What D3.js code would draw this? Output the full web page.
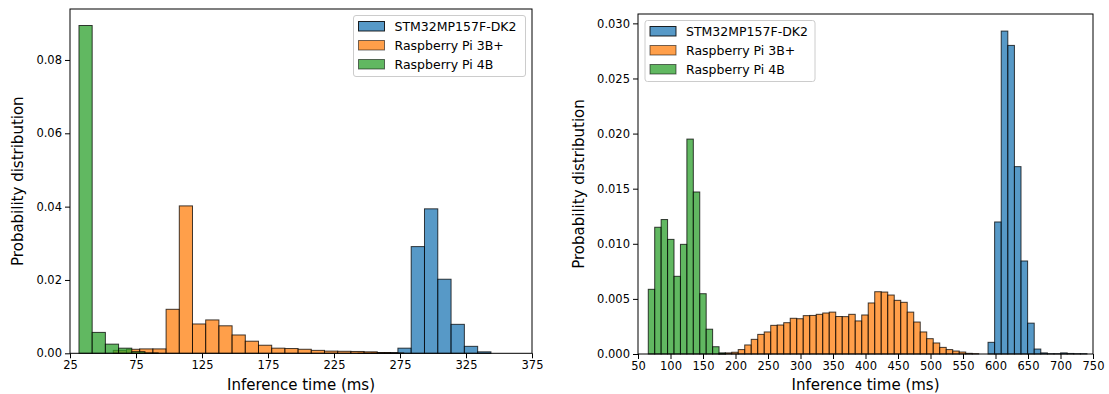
<!DOCTYPE html>
<html lang="en">
<head>
    <meta charset="UTF-8">
    <title>Inference time distributions</title>
    <script src="https://d3js.org/d3.v7.min.js"></script>
    <style>
        body { margin: 0; background: #fff; }
        svg { display: block; }
        text { font-family: "DejaVu Sans", sans-serif; fill: #000; }
    </style>
</head>
<body>
    <div id="chart"></div>

    <script>
        // Series names (legend order)
        const seriesNames = ["STM32MP157F-DK2", "Raspberry Pi 3B+", "Raspberry Pi 4B"];
        const seriesColors = ["#1f77b4", "#ff7f0e", "#2ca02c"];

        // Left panel: bin start (ms), bin width (ms), densities per bin
        const leftBlueStart = 243.2, leftBlueWidth = 10.07;
        const leftBlue = [0.0001, 0.0002, 0.0002, 0.0014, 0.0291, 0.0394, 0.0202, 0.0079, 0.0019, 0.0004];
        const leftOrangeStart = 57.8, leftOrangeWidth = 10;
        const leftOrange = [0.0008, 0.0011, 0.0012, 0.0012, 0.0120, 0.0402, 0.0080, 0.0091, 0.0075, 0.0050,
                            0.0033, 0.0022, 0.0014, 0.0013, 0.0011, 0.0008, 0.0006, 0.00055, 0.0005, 0.0004,
                            0.0002, 0.0001];
        const leftGreenStart = 31.8, leftGreenWidth = 10;
        const leftGreen = [0.0894, 0.0057, 0.0025, 0.0014, 0.00045, 0.0001];
        const leftXTicks = [25, 75, 125, 175, 225, 275, 325, 375];
        const leftYTicks = [0, 0.02, 0.04, 0.06, 0.08];

        // Right panel
        const rightBlueStart = 588.5, rightBlueWidth = 10.15;
        const rightBlue = [0.00106, 0.01198, 0.0293, 0.0280, 0.0170, 0.00844, 0.0028, 0.00045, 0.0001,
                           0.00003, 0.00003, 0.0001, 0.00005, 0.00003, 0.00003];
        const rightOrangeStart = 174.2, rightOrangeWidth = 10;
        const rightOrange = [0.00005, 0.0001, 0.00016, 0.0004, 0.00082, 0.00133, 0.00178, 0.0020, 0.0026, 0.00263,
                             0.00284, 0.00324, 0.0032, 0.00348, 0.0035, 0.0036, 0.00372, 0.0038, 0.0034, 0.00339,
                             0.0036, 0.0030, 0.00354, 0.00463, 0.00565, 0.00562, 0.00535, 0.00487, 0.00469, 0.0038,
                             0.0029, 0.0020, 0.00139, 0.0010, 0.0006, 0.0004, 0.00027, 0.00018, 0.00006, 0.00003];
        const rightGreenStart = 65.8, rightGreenWidth = 9.9;
        const rightGreen = [0.00587, 0.0115, 0.0122, 0.0104, 0.00705, 0.00995, 0.0195, 0.0147, 0.00547, 0.00225,
                            0.00066, 0.0001];
        const rightXTicks = [50, 100, 150, 200, 250, 300, 350, 400, 450, 500, 550, 600, 650, 700, 750];
        const rightYTicks = [0, 0.005, 0.010, 0.015, 0.020, 0.025, 0.030];

        const svg = d3.select("#chart")
                      .append("svg")
                      .attr("width", 1109)
                      .attr("height", 394);

        function toBins(start, width, values) {
            return values.map((v, i) => ({ x0: start + i * width, x1: start + (i + 1) * width, y: v }));
        }

        function drawPanel(p) {
            const x = d3.scaleLinear().domain(p.xDomain).range([p.left, p.right]);
            const y = d3.scaleLinear().domain(p.yDomain).range([p.bottom, p.top]);
            const g = svg.append("g");

            // bars: blue, orange, green (green drawn last)
            p.series.forEach((s, k) => {
                g.append("g").selectAll("rect")
                 .data(s)
                 .join("rect")
                 .attr("x", d => x(d.x0))
                 .attr("y", d => y(d.y))
                 .attr("width", d => x(d.x1) - x(d.x0))
                 .attr("height", d => y(0) - y(d.y))
                 .attr("fill", seriesColors[k])
                 .attr("fill-opacity", 0.75)
                 .attr("stroke", "#000")
                 .attr("stroke-opacity", 0.75)
                 .attr("stroke-width", 1);
            });

            // axes
            const xAxis = g.append("g")
                .attr("transform", `translate(0,${p.bottom})`)
                .call(d3.axisBottom(x).tickValues(p.xTicks).tickSize(5).tickPadding(3).tickFormat(d3.format("d")));
            const yAxis = g.append("g")
                .attr("transform", `translate(${p.left},0)`)
                .call(d3.axisLeft(y).tickValues(p.yTicks).tickSize(5).tickPadding(3).tickFormat(d3.format(p.yFmt)));
            [xAxis, yAxis].forEach(a => {
                a.select(".domain").remove();
                a.selectAll("line").attr("stroke", "#000").attr("stroke-width", 1);
                a.selectAll("text").attr("font-size", "11.5px").attr("font-family", "DejaVu Sans").attr("fill", "#000");
            });

            // frame
            g.append("rect")
             .attr("x", p.left).attr("y", p.top)
             .attr("width", p.right - p.left).attr("height", p.bottom - p.top)
             .attr("fill", "none").attr("stroke", "#000").attr("stroke-width", 1);

            // axis labels
            g.append("text")
             .attr("x", (p.left + p.right) / 2)
             .attr("y", 390)
             .attr("text-anchor", "middle")
             .attr("font-size", "15px")
             .text("Inference time (ms)");
            g.append("text")
             .attr("transform", `translate(${p.yLabelX},${(p.top + p.bottom) / 2}) rotate(-90)`)
             .attr("text-anchor", "middle")
             .attr("font-size", "15px")
             .text("Probability distribution");

            // legend
            const lg = g.append("g").attr("transform", `translate(${p.legend[0]},${p.legend[1]})`);
            lg.append("rect")
              .attr("width", p.legend[2]).attr("height", 61)
              .attr("rx", 2.5)
              .attr("fill", "#fff").attr("fill-opacity", 0.8)
              .attr("stroke", "#cccccc").attr("stroke-width", 1);
            seriesNames.forEach((name, k) => {
                lg.append("rect")
                  .attr("x", 5).attr("y", 6 + k * 19)
                  .attr("width", 26).attr("height", 9.5)
                  .attr("fill", seriesColors[k]).attr("fill-opacity", 0.75)
                  .attr("stroke", "#000").attr("stroke-opacity", k === 0 ? 0.85 : 0.55)
                  .attr("stroke-width", 1);
                lg.append("text")
                  .attr("x", 41).attr("y", 15.5 + k * 19)
                  .attr("font-size", "12.5px")
                  .text(name);
            });
        }

        drawPanel({
            left: 70, right: 532, top: 9, bottom: 353.3,
            xDomain: [25, 375], yDomain: [0, 0.0939],
            xTicks: leftXTicks, yTicks: leftYTicks, yFmt: ".2f",
            yLabelX: 23,
            legend: [353.5, 15.5, 172],
            series: [toBins(leftBlueStart, leftBlueWidth, leftBlue),
                     toBins(leftOrangeStart, leftOrangeWidth, leftOrange),
                     toBins(leftGreenStart, leftGreenWidth, leftGreen)]
        });

        drawPanel({
            left: 638, right: 1093, top: 14, bottom: 354,
            xDomain: [50, 750], yDomain: [0, 0.03085],
            xTicks: rightXTicks, yTicks: rightYTicks, yFmt: ".3f",
            yLabelX: 584,
            legend: [645, 20.5, 170],
            series: [toBins(rightBlueStart, rightBlueWidth, rightBlue),
                     toBins(rightOrangeStart, rightOrangeWidth, rightOrange),
                     toBins(rightGreenStart, rightGreenWidth, rightGreen)]
        });
    </script>
</body>
</html>
